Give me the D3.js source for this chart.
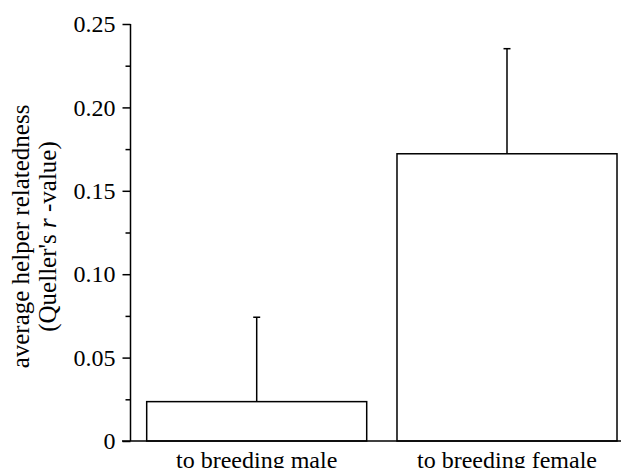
<!DOCTYPE html>
<html><head><meta charset="utf-8">
<script src="https://cdn.jsdelivr.net/npm/d3@7"></script>
<style>body{margin:0;background:#fff}svg{display:block}</style>
</head><body>
<svg id="c" width="621" height="468" font-family="Liberation Serif, Times New Roman, Times, serif"></svg>
<script>
const categories = ["to breeding male", "to breeding female"];
const means = [0.0236, 0.1722];
const errors = [0.0506, 0.0630];
const majorTicks = [0, 0.05, 0.10, 0.15, 0.20, 0.25];
const tickLabels = ["0", "0.05", "0.10", "0.15", "0.20", "0.25"];
const minorTicks = [0.025, 0.075, 0.125, 0.175, 0.225];
const FONT = "Liberation Serif, Times New Roman, Times, serif";

const svg = d3.select("#c");
const y = d3.scaleLinear().domain([0, 0.25]).range([441, 24]);
const x = d3.scaleBand().domain(categories).range([130, 633.7]).paddingInner(0.121).paddingOuter(0.0667);

// y axis
const yAxis = d3.axisLeft(y).tickValues(majorTicks).tickFormat((d,i)=>tickLabels[i]).tickSize(8).tickPadding(7);
const gy = svg.append("g").attr("transform","translate(130.5,0)").call(yAxis).attr("font-family",FONT).attr("font-size",24);
gy.select(".domain").remove();
gy.selectAll("line").attr("stroke","#000").attr("stroke-width",1.5);
gy.selectAll("text").attr("fill","#000");
const gm = svg.append("g").attr("transform","translate(130.5,0)").call(d3.axisLeft(y).tickValues(minorTicks).tickSize(5).tickFormat(""));
gm.select(".domain").remove();
gm.selectAll("line").attr("stroke","#000").attr("stroke-width",1.5);
svg.append("line").attr("x1",130.5).attr("x2",130.5).attr("y1",y(0.25)).attr("y2",y(0)).attr("stroke","#000").attr("stroke-width",1.5);

// bars
svg.selectAll("rect.bar").data(categories).join("rect").attr("class","bar")
  .attr("x",d=>x(d)).attr("width",x.bandwidth())
  .attr("y",(d,i)=>y(means[i])).attr("height",(d,i)=>y(0)-y(means[i]))
  .attr("fill","#fff").attr("stroke","#000").attr("stroke-width",1.5);

// error bars
svg.selectAll("line.err").data(categories).join("line").attr("class","err")
  .attr("x1",d=>x(d)+x.bandwidth()/2).attr("x2",d=>x(d)+x.bandwidth()/2)
  .attr("y1",(d,i)=>y(means[i])).attr("y2",(d,i)=>y(means[i]+errors[i]))
  .attr("stroke","#000").attr("stroke-width",1.5);
svg.selectAll("line.cap").data(categories).join("line").attr("class","cap")
  .attr("x1",d=>x(d)+x.bandwidth()/2-3.5).attr("x2",d=>x(d)+x.bandwidth()/2+3.5)
  .attr("y1",(d,i)=>y(means[i]+errors[i])).attr("y2",(d,i)=>y(means[i]+errors[i]))
  .attr("stroke","#000").attr("stroke-width",1.5);

// baseline
svg.append("line").attr("x1",122).attr("x2",621).attr("y1",y(0)).attr("y2",y(0)).attr("stroke","#000").attr("stroke-width",1.5);

// x labels
svg.selectAll("text.xl").data(categories).join("text").attr("class","xl")
  .attr("x",d=>x(d)+x.bandwidth()/2).attr("y",468).attr("text-anchor","middle")
  .attr("font-family",FONT).attr("font-size",24).text(d=>d);

// y title
const t = svg.append("text").attr("transform","translate(0,236.5) rotate(-90)").attr("text-anchor","middle")
  .attr("font-family",FONT).attr("font-size",25);
t.append("tspan").attr("x",0).attr("y",28.5).text("average helper relatedness");
t.append("tspan").attr("x",0).attr("y",56).text("(Queller's ");
t.append("tspan").attr("font-style","italic").text("r");
t.append("tspan").text(" -value)");
</script>
</body></html>
